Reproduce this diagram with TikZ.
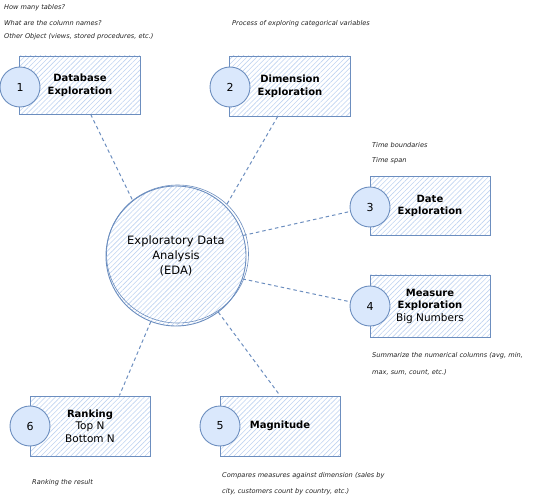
\documentclass[tikz,border=0pt]{standalone}
\usepackage{fontspec}
\setmainfont{DejaVu Sans}
\usetikzlibrary{patterns.meta}
\definecolor{edge_blue}{HTML}{6C8EBF}
\definecolor{fill_blue}{HTML}{DAE8FC}
\definecolor{hatch_blue}{HTML}{BFD3F0}
\definecolor{note_gray}{HTML}{222222}

\begin{document}
\begin{tikzpicture}
  [x=1pt, y=-1pt]
  \tikzstyle{box} = [draw=edge_blue, line width=0.9pt, minimum width=120pt, minimum height=60pt, align=center, font=\fontsize{10}{12.5}\selectfont\bfseries, pattern={Lines[angle=45,distance=3.5pt,line width=0.6pt]}, pattern color=hatch_blue];
  \tikzstyle{num_circle} = [circle, draw=edge_blue, line width=0.9pt, fill=fill_blue, minimum size=40pt, inner sep=0pt, font=\fontsize{11}{13}\selectfont];
  \tikzstyle{big_circle} = [circle, draw=edge_blue, line width=0.9pt, minimum size=140pt, inner sep=0pt, align=center, font=\fontsize{11.5}{15}\selectfont, pattern={Lines[angle=45,distance=3.5pt,line width=0.6pt]}, pattern color=hatch_blue];
  \tikzstyle{note} = [anchor=west, inner sep=0pt, text=note_gray, font=\fontsize{6.6}{8}\selectfont\itshape];
  \tikzstyle{link} = [draw=edge_blue, line width=1pt, dash pattern=on 3.5pt off 3pt];

  \useasboundingbox (0,0) rectangle (541,497);

  % centre
  \node[big_circle] (eda) at (176, 256) {Exploratory Data\\Analysis\\(EDA)};
  \draw[edge_blue, line width=0.6pt] (177.5, 254) circle [x radius=71pt, y radius=69pt];

  % boxes
  \node[box, minimum width=121pt, minimum height=58pt] (db_box) at (80, 85) {Database\\Exploration};
  \node[box, minimum width=121pt] (dim_box) at (290, 86) {Dimension\\Exploration};
  \node[box, minimum height=59pt] (date_box) at (430, 206) {Date\\Exploration};
  \node[box, minimum height=62pt] (measure_box) at (430, 306) {Measure\\Exploration\\{\mdseries\fontsize{10.5}{12.5}\selectfont Big Numbers}};
  \node[box] (rank_box) at (90, 426) {Ranking\\{\mdseries\fontsize{10.5}{12.5}\selectfont Top N}\\{\mdseries\fontsize{10.5}{12.5}\selectfont Bottom N}};
  \node[box] (mag_box) at (280, 426) {Magnitude};

  % numbers
  \node[num_circle] (num1) at (20, 87) {1};
  \node[num_circle] (num2) at (230, 87) {2};
  \node[num_circle] (num3) at (370, 207) {3};
  \node[num_circle] (num4) at (370, 306) {4};
  \node[num_circle] (num5) at (220, 426) {5};
  \node[num_circle] (num6) at (30, 426) {6};

  % links
  \draw[link] (db_box.-70) -- (eda.128);
  \draw[link] (dim_box.-112) -- (eda.45);
  \draw[link] (eda.17) -- (num3);
  \draw[link] (eda.-19) -- (num4);
  \draw[link] (eda.-53) -- (mag_box.north);
  \draw[link] (eda.-111) -- (rank_box.46);

  % notes
  \node[note] (note_db1) at (4, 8) {How many tables?};
  \node[note] (note_db2) at (4, 23) {What are the column names?};
  \node[note] (note_db3) at (4, 37) {Other Object (views, stored procedures, etc.)};
  \node[note] (note_dim) at (232, 24) {Process of exploring categorical variables};
  \node[note] (note_date1) at (372, 145) {Time boundaries};
  \node[note] (note_date2) at (372, 161) {Time span};
  \node[note] (note_meas1) at (372, 356) {Summarize the numerical columns (avg, min,};
  \node[note] (note_meas2) at (372, 372) {max, sum, count, etc.)};
  \node[note] (note_rank) at (32, 483) {Ranking the result};
  \node[note] (note_mag1) at (222, 476) {Compares measures against dimension (sales by};
  \node[note] (note_mag2) at (222, 492) {city, customers count by country, etc.)};

\end{tikzpicture}
\end{document}
